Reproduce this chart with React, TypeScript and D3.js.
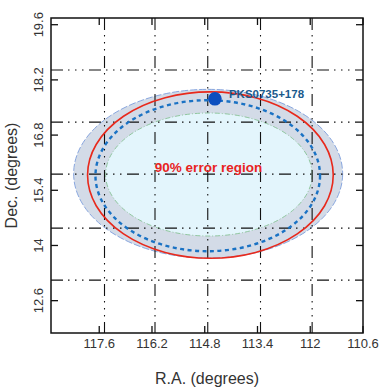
import React from 'react';
import * as d3 from 'd3';

// axis ticks
const raTicks = [117.6, 116.2, 114.8, 113.4, 112, 110.6];
const decTicks = [12.6, 14, 15.4, 16.8, 18.2, 19.6];

// overlay coordinate grid (dash-dot lines)
const gridRA = [117.46, 116.12, 114.72, 113.32, 111.95];
const gridDec = [18.45, 17.13, 15.81, 14.44, 13.12];

// error ellipses: [centre RA, centre Dec, semi-axis RA, semi-axis Dec]
const outerBand = [114.71, 15.82, 3.57, 2.14];
const innerBand = [114.69, 15.8, 2.74, 1.56];
const region90 = [114.65, 15.785, 3.26, 2.11];
const bestFit = [114.72, 15.77, 2.98, 1.915];

// source position
const source = { name: 'PKS0735+178', ra: 114.53, dec: 17.72 };

const W = 389;
const H = 389;
const margin = { top: 18, right: 26, bottom: 56, left: 51 };
const font = 'Liberation Sans, Arial, sans-serif';
const gridDash = '12 5 1.5 5.5 1.5 5.5 1.5 5.5';

export default function App() {
  const x = d3.scaleLinear().domain([118.88, 110.6]).range([margin.left, W - margin.right]);
  const y = d3.scaleLinear().domain([11.78, 19.77]).range([H - margin.bottom, margin.top]);
  const x0 = margin.left, x1 = W - margin.right, y0 = margin.top, y1 = H - margin.bottom;

  const ell = (e: number[], props: any) => (
    <ellipse
      cx={x(e[0])}
      cy={y(e[1])}
      rx={Math.abs(x(e[0] + e[2]) - x(e[0]))}
      ry={Math.abs(y(e[1] + e[3]) - y(e[1]))}
      {...props}
    />
  );

  return (
    <svg width={W} height={H} style={{ position: 'absolute', left: 0, top: 0 }}>
      <rect width={W} height={H} fill="#fff" />
      {/* fills */}
      {ell(outerBand, { fill: '#d3dbe7', stroke: '#6f93d8', strokeWidth: 0.8, strokeDasharray: '7 2' })}
      {ell(innerBand, { fill: '#e3f5fc', stroke: '#7dbf8c', strokeWidth: 0.8, strokeDasharray: '5 2 1 2' })}

      {/* grid */}
      <g stroke="#111" strokeWidth={1.1} strokeDasharray={gridDash} fill="none">
        {gridRA.map((v) => (
          <line key={'gx' + v} x1={x(v)} x2={x(v)} y1={y0} y2={y1} />
        ))}
        {gridDec.map((v) => (
          <line key={'gy' + v} x1={x0} x2={x1} y1={y(v)} y2={y(v)} />
        ))}
      </g>

      {/* 90% region and best fit */}
      {ell(region90, { fill: 'none', stroke: '#e8291c', strokeWidth: 1.6 })}
      {ell(bestFit, { fill: 'none', stroke: '#1a72c4', strokeWidth: 2.4, strokeDasharray: '4 3.5' })}

      <circle cx={x(source.ra)} cy={y(source.dec)} r={6.8} fill="#0b4fbf" />
      <text x={x(source.ra) + 14} y={y(source.dec) - 0.5} fill="#1b5a8c" fontFamily={font} fontWeight="bold" fontSize={11.5}>
        {source.name}
      </text>
      <text x={x(114.7)} y={y(15.77) - 4} fill="#e8231f" fontFamily={font} fontWeight="bold" fontSize={13.5} textAnchor="middle">
        90% error region
      </text>

      {/* frame and ticks */}
      <rect x={x0} y={y0} width={x1 - x0} height={y1 - y0} fill="none" stroke="#111" strokeWidth={1.5} />
      <g stroke="#111" strokeWidth={1.3}>
        {raTicks.map((v) => (
          <g key={'tx' + v}>
            <line x1={x(v)} x2={x(v)} y1={y1} y2={y1 - 7} />
            <line x1={x(v)} x2={x(v)} y1={y0} y2={y0 + 7} />
          </g>
        ))}
        {decTicks.map((v) => (
          <g key={'ty' + v}>
            <line x1={x0} x2={x0 + 7} y1={y(v)} y2={y(v)} />
            <line x1={x1} x2={x1 - 7} y1={y(v)} y2={y(v)} />
          </g>
        ))}
      </g>
      <g fill="#333" fontFamily={font} fontSize={13}>
        {raTicks.map((v) => (
          <text key={'lx' + v} x={x(v)} y={y1 + 15} textAnchor="middle">
            {String(v)}
          </text>
        ))}
        {decTicks.map((v) => (
          <text key={'ly' + v} transform={`translate(${x0 - 8},${y(v)}) rotate(-90)`} textAnchor="middle">
            {String(v)}
          </text>
        ))}
      </g>
      <text x={(x0 + x1) / 2} y={383.5} textAnchor="middle" fill="#333" fontFamily={font} fontSize={16}>
        R.A. (degrees)
      </text>
      <text transform={`translate(17,${(y0 + y1) / 2}) rotate(-90)`} textAnchor="middle" fill="#333" fontFamily={font} fontSize={16}>
        Dec. (degrees)
      </text>
    </svg>
  );
}
